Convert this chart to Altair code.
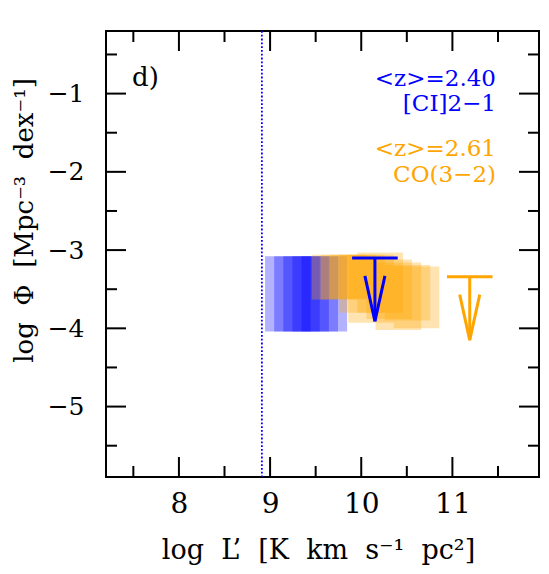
import altair as alt
import pandas as pd

# ---------------- data ----------------
# [CI]2-1 sliding-bin boxes (blue)
ci_xlo = [8.945, 9.045, 9.145, 9.245, 9.345]
ci_xhi = [9.445, 9.545, 9.645, 9.745, 9.845]
ci_ylo = [-4.04, -4.04, -4.04, -4.04, -4.04]
ci_yhi = [-3.08, -3.08, -3.08, -3.08, -3.08]

# CO(3-2) sliding-bin boxes (orange)
co_xlo = [9.457, 9.557, 9.657, 9.757, 9.857, 9.957, 10.057, 10.157, 10.257, 10.357]
co_xhi = [9.957, 10.057, 10.157, 10.257, 10.357, 10.457, 10.557, 10.657, 10.757, 10.857]
co_ylo = [-3.63, -3.63, -3.62, -3.80, -3.93, -3.80, -3.88, -4.02, -3.90, -4.00]
co_yhi = [-3.06, -3.06, -3.06, -3.06, -3.06, -3.03, -3.12, -3.16, -3.19, -3.21]

# upper limits
lim_series = ["CI", "CO"]
lim_x = [10.15, 11.19]
lim_y = [-3.10, -3.34]
bin_half = 0.25

# completeness limit
vline_x = [8.91]

# axis ticks
x_major = [8, 9, 10, 11]
x_minor = [7.5, 8.5, 9.5, 10.5, 11.5]
y_major = [-1, -2, -3, -4, -5]
y_minor = [-0.5, -1.5, -2.5, -3.5, -4.5, -5.5]

BLUE = "#0000ff"
ORANGE = "#ffa500"
FONT = "DejaVu Serif"
W, H = 433, 446
XDOM = [7.2, 11.95]
YDOM = [-5.9, -0.2]
SP = "\u00a0 "

xs = alt.Scale(domain=XDOM, nice=False, zero=False)
ys = alt.Scale(domain=YDOM, nice=False, zero=False)

ci = pd.DataFrame({"x": ci_xlo, "x2": ci_xhi, "y": ci_ylo, "y2": ci_yhi})
co = pd.DataFrame({"x": co_xlo, "x2": co_xhi, "y": co_ylo, "y2": co_yhi})

xenc = alt.X("x:Q", scale=xs,
             axis=alt.Axis(values=x_major, format="d", ticks=False, domain=False, grid=False,
                           labelFont=FONT, labelFontSize=28, labelColor="black",
                           labelPadding=13,
                           title=SP.join(["log", "L’", "[K", "km", "s⁻¹", "pc²]"]),
                           titleFont=FONT, titleFontSize=27, titleFontWeight="normal",
                           titleColor="black", titleX=212, titleY=81,
                           titleBaseline="alphabetic"))
yenc = alt.Y("y:Q", scale=ys,
             axis=alt.Axis(values=y_major, format="d", ticks=False, domain=False, grid=False,
                           labelFont=FONT, labelFontSize=25, labelColor="black",
                           labelPadding=22,
                           title=SP.join(["log", "Φ", "[Mpc⁻³", "dex⁻¹]"]),
                           titleFont=FONT, titleFontSize=26, titleFontWeight="normal",
                           titleColor="black", titleX=-74, titleY=189,
                           titleBaseline="alphabetic"))

ci_rect = alt.Chart(ci).mark_rect(color=BLUE, opacity=0.3).encode(
    x=xenc, x2="x2:Q", y=yenc, y2="y2:Q")
co_rect = alt.Chart(co).mark_rect(color=ORANGE, opacity=0.3).encode(
    x=alt.X("x:Q", scale=xs), x2="x2:Q", y=alt.Y("y:Q", scale=ys), y2="y2:Q")

vl = alt.Chart(pd.DataFrame({"x": vline_x})).mark_rule(
    color=BLUE, strokeWidth=1.8, strokeDash=[1.8, 2]).encode(
    x=alt.X("x:Q", scale=xs), y=alt.value(0), y2=alt.value(H))

# upper-limit arrows, built from the limit values
lim = pd.DataFrame({"s": lim_series, "x": lim_x, "y": lim_y})
lim["xl"] = lim["x"] - bin_half
lim["xr"] = lim["x"] + bin_half
lim["tip"] = lim["y"] - 0.81
head_rows = []
for s, x, y in zip(lim_series, lim_x, lim_y):
    tip = y - 0.81
    top = tip + 0.58
    head_rows += [{"s": s, "o": 0, "x": x - 0.11, "y": top},
                  {"s": s, "o": 1, "x": x, "y": tip},
                  {"s": s, "o": 2, "x": x + 0.11, "y": top}]
head = pd.DataFrame(head_rows)
cscale = alt.Scale(domain=["CI", "CO"], range=[BLUE, ORANGE])

bar = alt.Chart(lim).mark_rule(strokeWidth=3).encode(
    x=alt.X("xl:Q", scale=xs), x2="xr:Q", y=alt.Y("y:Q", scale=ys),
    color=alt.Color("s:N", scale=cscale, legend=None))
stem = alt.Chart(lim).mark_rule(strokeWidth=3).encode(
    x=alt.X("x:Q", scale=xs), y=alt.Y("y:Q", scale=ys), y2="tip:Q",
    color=alt.Color("s:N", scale=cscale, legend=None))
arrow = alt.Chart(head).mark_line(strokeWidth=3).encode(
    x=alt.X("x:Q", scale=xs), y=alt.Y("y:Q", scale=ys), order="o:Q",
    detail="s:N", color=alt.Color("s:N", scale=cscale, legend=None))

# inward ticks on all four sides
def xt(vals, ln):
    d = pd.DataFrame({"x": vals})
    b = alt.Chart(d).mark_rule(color="black", strokeWidth=2).encode(
        x=alt.X("x:Q", scale=xs), y=alt.value(H), y2=alt.value(H - ln))
    t = alt.Chart(d).mark_rule(color="black", strokeWidth=2).encode(
        x=alt.X("x:Q", scale=xs), y=alt.value(0), y2=alt.value(ln))
    return b + t

def yt(vals, ln):
    d = pd.DataFrame({"y": vals})
    l = alt.Chart(d).mark_rule(color="black", strokeWidth=2).encode(
        y=alt.Y("y:Q", scale=ys), x=alt.value(0), x2=alt.value(ln))
    r = alt.Chart(d).mark_rule(color="black", strokeWidth=2).encode(
        y=alt.Y("y:Q", scale=ys), x=alt.value(W), x2=alt.value(W - ln))
    return l + r

ticks = xt(x_major, 20) + xt(x_minor, 11) + yt(y_major, 20) + yt(y_minor, 11)

# text annotations
def label(txt, color, px, py, size=23, align="right"):
    return alt.Chart(pd.DataFrame({"t": [txt]})).mark_text(
        font=FONT, fontSize=size, color=color, align=align, baseline="middle").encode(
        text="t:N", x=alt.value(px), y=alt.value(py))

texts = (label("d)", "black", 26, 47, size=26, align="left")
         + label("<z>=2.40", BLUE, 390, 48)
         + label("[CI]2−1", BLUE, 390, 73)
         + label("<z>=2.61", ORANGE, 390, 118)
         + label("CO(3−2)", ORANGE, 390, 144))

chart = alt.layer(ci_rect, co_rect, vl, bar, stem, arrow, ticks, texts).properties(
    width=W, height=H,
    autosize=alt.AutoSizeParams(type="none"),
    padding={"left": 98, "top": 23, "right": 2, "bottom": 89},
).configure_view(stroke="black", strokeWidth=2)

chart.save("out.html", embed_options={"renderer": "svg", "actions": False})
